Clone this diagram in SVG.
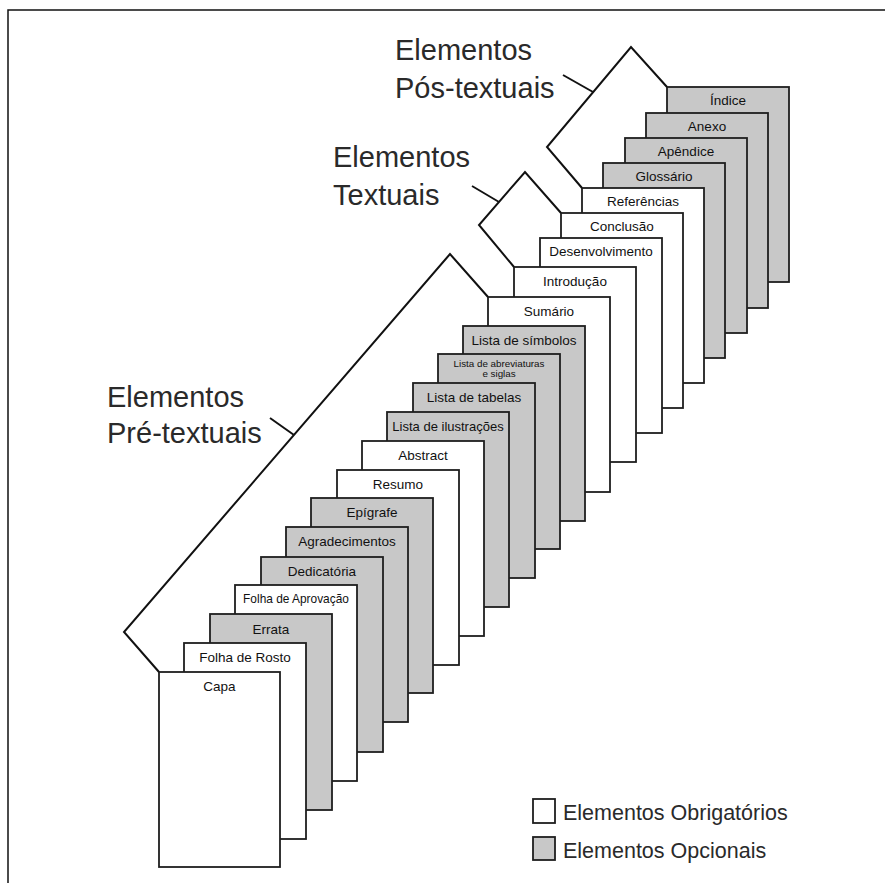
<svg xmlns="http://www.w3.org/2000/svg" width="885" height="883" viewBox="0 0 885 883">
<style>
.pg{stroke:#1e1e1e;stroke-width:1.8}
.w{fill:#ffffff}
.g{fill:#c8c8c8}
.lb{font-family:"Liberation Sans",Arial,sans-serif;font-size:13.5px;fill:#111;text-anchor:middle}
.big{font-family:"Liberation Sans",Arial,sans-serif;font-size:29px;fill:#2a2a2a}
.leg{font-family:"Liberation Sans",Arial,sans-serif;font-size:21.5px;fill:#2a2a2a}
.br{fill:none;stroke:#111;stroke-width:2;stroke-linejoin:miter}
.frame{fill:none;stroke:#111;stroke-width:1.5}
</style>
<rect x="0" y="0" width="885" height="883" fill="#ffffff"/>
<path class="frame" d="M8,883 L8,10 L885,10"/>

<g id="pages">
<g id="indice"><rect class="pg g" x="667" y="87" width="122" height="195"/><text class="lb" x="728" y="105">Índice</text></g>
<g id="anexo"><rect class="pg g" x="646" y="113" width="122" height="195"/><text class="lb" x="707" y="131">Anexo</text></g>
<g id="apendice"><rect class="pg g" x="625" y="138" width="122" height="195"/><text class="lb" x="686" y="156">Apêndice</text></g>
<g id="glossario"><rect class="pg g" x="603" y="163" width="122" height="195"/><text class="lb" x="664" y="181">Glossário</text></g>
<g id="referencias"><rect class="pg w" x="582" y="188" width="122" height="195"/><text class="lb" x="643" y="206">Referências</text></g>
<g id="conclusao"><rect class="pg w" x="561" y="213" width="122" height="195"/><text class="lb" x="622" y="231">Conclusão</text></g>
<g id="desenvolvimento"><rect class="pg w" x="540" y="238" width="122" height="195"/><text class="lb" x="601" y="256">Desenvolvimento</text></g>
<g id="introducao"><rect class="pg w" x="514" y="267" width="122" height="195"/><text class="lb" x="575" y="285.5">Introdução</text></g>
<g id="sumario"><rect class="pg w" x="488" y="297" width="122" height="195"/><text class="lb" x="549" y="315.5">Sumário</text></g>
<g id="lista-simbolos"><rect class="pg g" x="463" y="326" width="122" height="195"/><text class="lb" x="524" y="344.5">Lista de símbolos</text></g>
<g id="lista-abreviaturas"><rect class="pg g" x="438" y="354" width="122" height="195"/><text class="lb" x="499" y="366.5" style="font-size:9.8px">Lista de abreviaturas</text><text class="lb" x="499" y="377" style="font-size:9.8px">e siglas</text></g>
<g id="lista-tabelas"><rect class="pg g" x="413" y="383" width="122" height="195"/><text class="lb" x="474" y="401.5">Lista de tabelas</text></g>
<g id="lista-ilustracoes"><rect class="pg g" x="387" y="412" width="122" height="195"/><text class="lb" x="448" y="430.5" style="font-size:13px">Lista de ilustrações</text></g>
<g id="abstract"><rect class="pg w" x="362" y="441" width="122" height="195"/><text class="lb" x="423" y="459.5">Abstract</text></g>
<g id="resumo"><rect class="pg w" x="337" y="470" width="122" height="195"/><text class="lb" x="398" y="489">Resumo</text></g>
<g id="epigrafe"><rect class="pg g" x="311" y="498" width="122" height="195"/><text class="lb" x="372" y="517">Epígrafe</text></g>
<g id="agradecimentos"><rect class="pg g" x="286" y="527" width="122" height="195"/><text class="lb" x="347" y="546">Agradecimentos</text></g>
<g id="dedicatoria"><rect class="pg g" x="261" y="557" width="122" height="195"/><text class="lb" x="322" y="575.5">Dedicatória</text></g>
<g id="folha-aprovacao"><rect class="pg w" x="235" y="585" width="122" height="196"/><text class="lb" x="296" y="603" style="font-size:11.9px">Folha de Aprovação</text></g>
<g id="errata"><rect class="pg g" x="210" y="614" width="122" height="196"/><text class="lb" x="271" y="634">Errata</text></g>
<g id="folha-rosto"><rect class="pg w" x="184" y="643" width="122" height="196"/><text class="lb" x="245" y="662">Folha de Rosto</text></g>
<g id="capa"><rect class="pg w" x="159" y="672" width="121" height="195"/><text class="lb" x="219.5" y="691">Capa</text></g>
</g>

<g id="connectors">
<polyline class="br" points="159,672 124,632 450,254 488,297"/>
<line class="br" x1="270" y1="418" x2="294" y2="435"/>
<polyline class="br" points="514,267 479,225 525,172 561,213"/>
<line class="br" x1="472" y1="186" x2="499" y2="202"/>
<polyline class="br" points="582,188 547,147 631,47 667,87"/>
<line class="br" x1="563" y1="75" x2="593" y2="92"/>
</g>

<g id="label-pos">
<text class="big" x="395" y="60">Elementos</text>
<text class="big" x="395" y="98">Pós-textuais</text>
</g>
<g id="label-textuais">
<text class="big" x="333" y="167">Elementos</text>
<text class="big" x="333" y="205">Textuais</text>
</g>
<g id="label-pre">
<text class="big" x="107" y="407">Elementos</text>
<text class="big" x="107" y="443">Pré-textuais</text>
</g>

<g id="legend-obrigatorios">
<rect class="pg w" x="533" y="799" width="22" height="24"/>
<text class="leg" x="563" y="820">Elementos Obrigatórios</text>
</g>
<g id="legend-opcionais">
<rect class="pg g" x="533" y="837" width="22" height="23"/>
<text class="leg" x="563" y="858">Elementos Opcionais</text>
</g>
</svg>
